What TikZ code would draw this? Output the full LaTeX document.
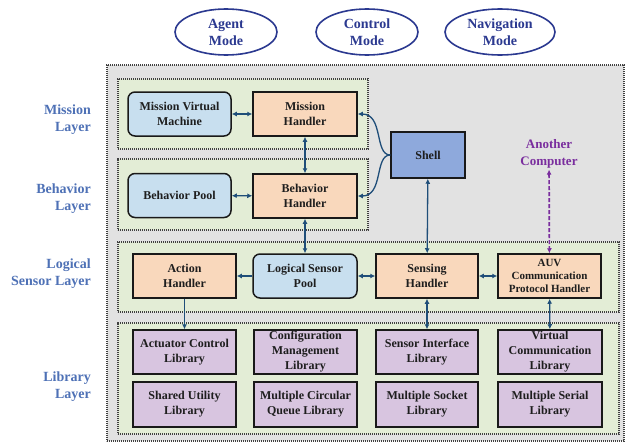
\documentclass[tikz,border=0pt]{standalone}
\usepackage{fontspec}
\setmainfont{Liberation Serif}
\usetikzlibrary{arrows.meta,shapes.geometric}
\definecolor{grayfill}{HTML}{E2E2E2}
\definecolor{greenfill}{HTML}{E3EDD6}
\definecolor{bluefill}{HTML}{C8DFEF}
\definecolor{peach}{HTML}{F9D8BC}
\definecolor{lilac}{HTML}{D8C5E0}
\definecolor{shellblue}{HTML}{8EA9DC}
\definecolor{arrowblue}{HTML}{1F4E79}
\definecolor{labelblue}{HTML}{4E71B6}
\definecolor{navy}{HTML}{2B3990}
\definecolor{purp}{HTML}{7A2E9E}
\definecolor{txt}{HTML}{1E1E1E}
\begin{document}
\begin{tikzpicture}[x=1pt,y=-1pt,
  >={Latex[length=5pt,width=5pt]},
  dotframe/.style={draw=black!75, line width=1.2pt, dash pattern=on 1.1pt off 0.9pt},
  outerbox/.style={dotframe, fill=grayfill, inner sep=0pt},
  grp/.style={dotframe, fill=greenfill, inner sep=0pt},
  box/.style={draw=black!90, line width=1.5pt, minimum width=103pt, minimum height=44pt,
    inner sep=0pt, align=center, text=txt, font=\fontsize{12}{15}\selectfont\bfseries},
  bluebox/.style={box, fill=bluefill, rounded corners=7pt},
  peachbox/.style={box, fill=peach},
  libbox/.style={box, fill=lilac},
  modeell/.style={ellipse, draw=navy, line width=1.6pt, fill=white, inner sep=0pt,
    minimum height=46pt, align=center, text=navy, font=\fontsize{14}{17}\selectfont\bfseries},
  layerlabel/.style={anchor=east, align=right, text=labelblue, inner sep=0pt,
    font=\fontsize{14}{17}\selectfont\bfseries},
  conn/.style={draw=arrowblue, line width=1.3pt},
  remote/.style={draw=purp, line width=1.7pt, dash pattern=on 4pt off 2pt}
]
\useasboundingbox (0,0) rectangle (626,444);
\fill[white] (0,0) rectangle (626,444);

% mode ellipses
\node[modeell, minimum width=102pt] (agent) at (226,32) {Agent\\Mode};
\node[modeell, minimum width=102pt] (control) at (367,32) {Control\\Mode};
\node[modeell, minimum width=110pt] (navig) at (500,32) {Navigation\\Mode};

% frames
\node[outerbox, minimum width=517pt, minimum height=376pt] (outer) at (365.5,253) {};
\node[grp, minimum width=250pt, minimum height=70pt] (mgrp) at (243,114) {};
\node[grp, minimum width=250pt, minimum height=71pt] (bgrp) at (243,194.5) {};
\node[grp, minimum width=501pt, minimum height=70pt] (lgrp) at (368.5,277) {};
\node[grp, minimum width=501pt, minimum height=111pt] (libgrp) at (368.5,378.5) {};

% layer labels
\node[layerlabel] (lbmission) at (91,120) {Mission\\Layer};
\node[layerlabel] (lbbehavior) at (91,199) {Behavior\\Layer};
\node[layerlabel] (lblogical) at (91,274) {Logical\\Sensor Layer};
\node[layerlabel] (lblibrary) at (91,387) {Library\\Layer};

% mission layer
\node[bluebox] (mvm) at (179.5,114) {Mission Virtual\\Machine};
\node[peachbox, minimum width=104pt] (mh) at (305,114) {Mission\\Handler};
% behavior layer
\node[bluebox] (bp) at (179.5,195.5) {Behavior Pool};
\node[peachbox, minimum width=104pt] (bh) at (305,196) {Behavior\\Handler};
% shell and remote
\node[box, fill=shellblue, minimum width=74pt, minimum height=46pt] (shell) at (428,155) {Shell};
\node[align=center, text=purp, inner sep=1pt, font=\fontsize{13}{17}\selectfont\bfseries] (another) at (549,154) {Another\\Computer};
% logical sensor layer
\node[peachbox] (ah) at (184.5,276) {Action\\Handler};
\node[bluebox, minimum width=104pt] (lsp) at (305,276) {Logical Sensor\\Pool};
\node[peachbox, minimum width=102pt] (sh) at (427,276) {Sensing\\Handler};
\node[peachbox, font=\fontsize{11}{13}\selectfont\bfseries] (auv) at (549.5,276) {AUV\\Communication\\Protocol Handler};
% library layer
\node[libbox] (acl) at (184.5,352) {Actuator Control\\Library};
\node[libbox] (cml) at (305.5,352) {Configuration\\Management\\Library};
\node[libbox, minimum width=102pt] (sil) at (427,352) {Sensor Interface\\Library};
\node[libbox, minimum width=104pt] (vcl) at (550,352) {Virtual\\Communication\\Library};
\node[libbox, minimum height=45pt] (sul) at (184.5,404.5) {Shared Utility\\Library};
\node[libbox, minimum height=45pt] (mcq) at (305.5,404.5) {Multiple Circular\\Queue Library};
\node[libbox, minimum width=102pt, minimum height=45pt] (msl) at (427,404.5) {Multiple Socket\\Library};
\node[libbox, minimum width=104pt, minimum height=45pt] (mser) at (550,404.5) {Multiple Serial\\Library};

% connectors
\draw[conn,<->] (mvm) -- (mh);
\draw[conn,<->] (bp) -- (bh);
\draw[conn,<->] (mh) -- (bh);
\draw[conn,<->] (bh) -- (lsp);
\draw[conn,->] (shell.west) .. controls +(-16,0) and +(26,0) .. (mh.east);
\draw[conn,->] (shell.west) .. controls +(-16,0) and +(26,0) .. (bh.east);
\draw[conn,<->] (shell) -- (sh);
\draw[remote,<->] (another) -- (auv);
\draw[conn,->] (lsp) -- (ah);
\draw[conn,<->] (lsp) -- (sh);
\draw[conn,<->] (sh) -- (auv);
\draw[conn,->] (ah) -- (acl);
\draw[conn,<->] (sh) -- (sil);
\draw[conn,<->] (auv) -- (vcl);
\end{tikzpicture}
\end{document}
